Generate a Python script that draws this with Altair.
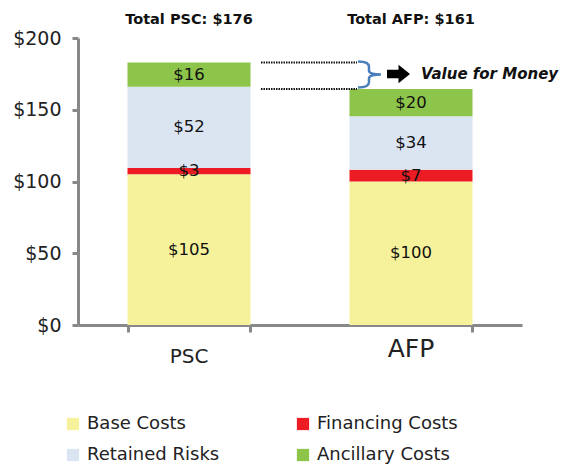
import altair as alt
import pandas as pd

categories = ["PSC", "AFP"]
components = ["Base Costs", "Financing Costs", "Retained Risks", "Ancillary Costs"]
colors = ["#F6F19B", "#ED1C24", "#DBE5F1", "#8DC44A"]
legend_order = ["Base Costs", "Retained Risks", "Financing Costs", "Ancillary Costs"]
legend_colors = ["#F6F19B", "#DBE5F1", "#ED1C24", "#8DC44A"]
psc_values = [105, 4.4, 56.6, 17.0]
afp_values = [100, 8.2, 37.2, 19.1]
psc_labels = ["$105", "$3", "$52", "$16"]
afp_labels = ["$100", "$7", "$34", "$20"]
totals_text = ["Total PSC: $176", "Total AFP: $161"]

FONT = "DejaVu Sans"

rows = []
for cat, vals, labs in [("PSC", psc_values, psc_labels), ("AFP", afp_values, afp_labels)]:
    for i, (c, v, l) in enumerate(zip(components, vals, labs)):
        rows.append({"cat": cat, "comp": c, "value": v, "label": l, "order": i})
df = pd.DataFrame(rows)
tot_df = pd.DataFrame({"cat": categories, "title": totals_text})
cat_df = pd.DataFrame({"cat": categories})

xscale = alt.Scale(domain=categories, paddingInner=0.446, paddingOuter=0.223)
x = alt.X("cat:N", scale=xscale, sort=categories, title=None,
          axis=alt.Axis(labels=False, ticks=True, tickBand="extent", tickSize=7, tickWidth=3,
                        tickColor="#888", domainColor="#888", domainWidth=3))
xs = alt.X("cat:N", scale=xscale, sort=categories)
yscale = alt.Scale(domain=[0, 200])

base = alt.Chart(df)
bars = base.mark_bar(size=123).encode(
    x=x,
    y=alt.Y("sum(value):Q", scale=yscale, title=None, stack="zero",
            axis=alt.Axis(values=[0, 50, 100, 150, 200], labelExpr="'$' + datum.value",
                          grid=False, domainColor="#888", domainWidth=3, tickColor="#888",
                          tickWidth=3, tickSize=6, labelFont=FONT, labelFontSize=19,
                          labelColor="#222", labelPadding=11)),
    color=alt.Color("comp:N", scale=alt.Scale(domain=legend_order, range=legend_colors),
                    title=None,
                    legend=alt.Legend(orient="none", legendX=-14, legendY=377, columns=2,
                                      columnPadding=74, rowPadding=13, symbolType="square",
                                      symbolSize=150, symbolStrokeWidth=0, symbolOpacity=1,
                                      labelFont=FONT, labelFontSize=18, labelColor="#222",
                                      labelOffset=5, labelLimit=300)),
    order=alt.Order("order:Q"),
)

seg_text = base.transform_stack(
    stack="value", groupby=["cat"], sort=[alt.SortField("order")], as_=["y0", "y1"]
).transform_calculate(mid="(datum.y0 + datum.y1) / 2").mark_text(
    font=FONT, fontSize=16.5, color="#111"
).encode(x=xs, y=alt.Y("mid:Q", scale=yscale), text="label:N")

title_text = alt.Chart(tot_df).mark_text(font=FONT, fontSize=14.5, fontWeight="bold", color="#111").encode(
    x=xs, y=alt.value(-18), text="title:N")

psc_lab = alt.Chart(cat_df).transform_filter("datum.cat == 'PSC'").mark_text(
    font=FONT, fontSize=20, color="#222").encode(x=xs, y=alt.value(319), text="cat:N")
afp_lab = alt.Chart(cat_df).transform_filter("datum.cat == 'AFP'").mark_text(
    font=FONT, fontSize=25, color="#222").encode(x=xs, y=alt.value(311), text="cat:N")

dots = base.transform_aggregate(total="sum(value)", groupby=["cat"]).mark_rule(
    color="#111", strokeWidth=2, strokeDash=[1.5, 1]
).encode(y=alt.Y("total:Q", scale=yscale), x=alt.value(183), x2=alt.value(279))

brace = alt.Chart(pd.DataFrame({"t": ["b"]})).mark_point(
    shape="M -0.88 -1 Q -0.04 -1 -0.04 -0.6 L -0.04 -0.3 Q -0.04 0 0.88 0 "
          "Q -0.04 0 -0.04 0.3 L -0.04 0.6 Q -0.04 1 -0.88 1",
    filled=False, color="#4A7EBB", strokeWidth=2.5, opacity=1, size=676
).encode(x=alt.value(291.5), y=alt.value(36.5))

arrow = alt.Chart(pd.DataFrame({"t": ["a"]})).mark_point(
    shape="M -1 -0.36 L 0 -0.36 L 0 -0.8 L 1 0 L 0 0.8 L 0 0.36 L -1 0.36 Z",
    filled=True, color="#000", opacity=1, size=529
).encode(x=alt.value(320.5), y=alt.value(36))

vfm = alt.Chart(pd.DataFrame({"t": ["Value for Money"]})).mark_text(
    font=FONT, fontSize=15, fontWeight="bold", fontStyle="italic", color="#111", align="left"
).encode(x=alt.value(343), y=alt.value(35.5), text="t:N")

chart = alt.layer(bars, seg_text, title_text, psc_lab, afp_lab, dots, brace, arrow, vfm).properties(
    width=444, height=287,
    autosize=alt.AutoSizeParams(type="none"),
    padding={"left": 70, "top": 30, "right": 39, "bottom": 140},
).configure_view(stroke=None)

chart.save("out.html", embed_options={"renderer": "svg", "actions": False})
